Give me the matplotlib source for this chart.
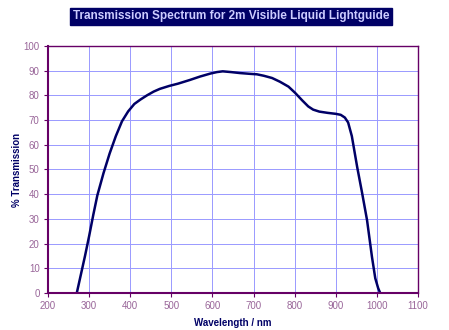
import matplotlib
matplotlib.use("Agg")
import matplotlib.pyplot as plt

# Transmission curve
wavelength = [270, 280, 290, 300, 310, 320, 335, 350, 365, 380, 395, 410, 425,
              441, 457, 472, 495, 516, 545, 570, 595, 611, 625, 645, 667, 690,
              708, 725, 745, 764, 785, 801, 818, 833, 845, 860, 880, 900,
              912, 922, 930, 939, 952, 964, 976, 988, 996, 1003, 1008]
transmission = [0, 7.5, 15, 23, 31.5, 39.5, 48.5, 56.5, 63.5, 69.5, 73.5, 76.5, 78.3,
                80, 81.5, 82.6, 83.8, 84.7, 86.2, 87.6, 88.8, 89.4, 89.7, 89.4, 89, 88.7,
                88.5, 87.9, 87, 85.5, 83.5, 81, 78, 75.5, 74.2, 73.4, 72.9, 72.5,
                72.1, 71, 69, 63.5, 51, 40.5, 29.5, 14.6, 6, 2, 0]

x_ticks = list(range(200, 1101, 100))
y_ticks = list(range(0, 101, 10))

NAVY = "#000066"
LABEL_COLOR = "#996699"
GRID_COLOR = "#9999ff"
SPINE_COLOR = "#660066"

plt.rcParams["font.family"] = ["Liberation Sans", "DejaVu Sans"]

fig = plt.figure(figsize=(4.49, 3.30), dpi=100)
ax = fig.add_axes([0.1069, 0.112, 0.8241, 0.749])

ax.plot(wavelength, transmission, color=NAVY, lw=1.8,
        solid_joinstyle="round", solid_capstyle="round")

ax.set_xlim(200, 1100)
ax.set_ylim(0, 100)
ax.set_xticks(x_ticks)
ax.set_yticks(y_ticks)
ax.grid(True, color=GRID_COLOR, lw=0.7)
ax.set_axisbelow(True)

for side in ax.spines.values():
    side.set_color(SPINE_COLOR)
    side.set_linewidth(1.0)
ax.spines["left"].set_linewidth(1.5)
ax.spines["bottom"].set_linewidth(1.5)

ax.tick_params(axis="both", direction="out", length=3, width=0.8,
               color=SPINE_COLOR, labelcolor=LABEL_COLOR, labelsize=7, pad=3)

ax.set_xlabel("Wavelength / nm", fontsize=7, fontweight="bold", color=NAVY, labelpad=5)
ax.set_ylabel("% Transmission", fontsize=7, fontweight="bold", color=NAVY, labelpad=1)

fig.text(0.515, 0.95, "Transmission Spectrum for 2m Visible Liquid Lightguide",
         ha="center", va="center", fontsize=8.5, fontweight="bold", color="#ccccff",
         bbox=dict(boxstyle="square,pad=0.25", facecolor=NAVY, edgecolor=NAVY))

fig.savefig("out.png", dpi=100)
